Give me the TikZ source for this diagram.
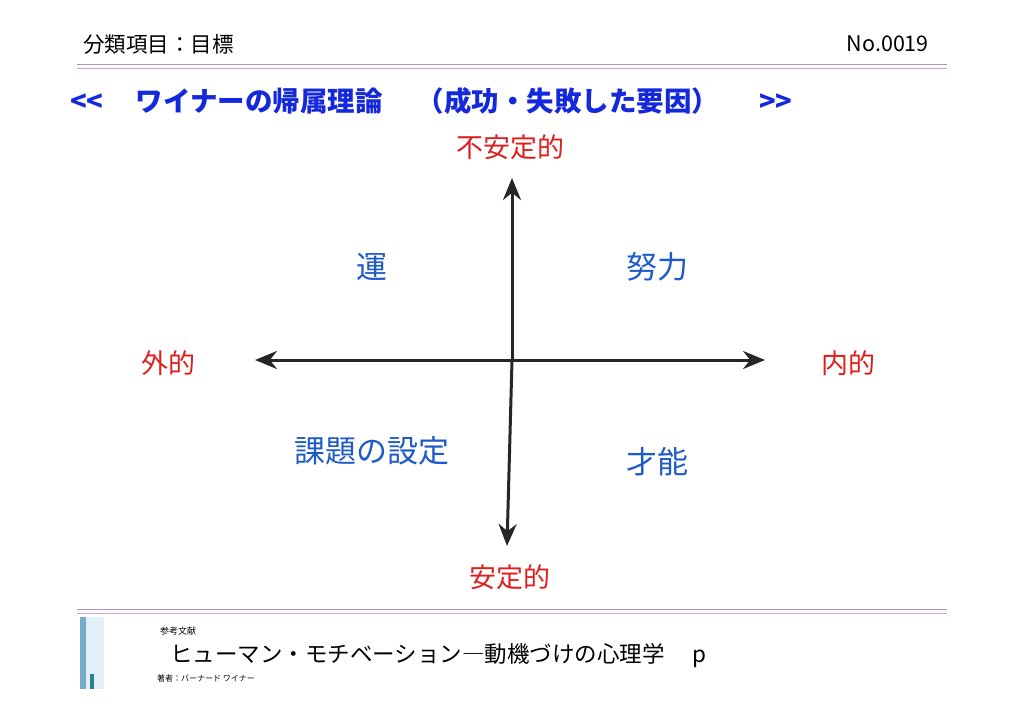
\documentclass[tikz,border=0pt]{standalone}
\usepackage{fontspec}
\newfontfamily\cjk{Noto Sans CJK JP}
\usetikzlibrary{arrows.meta}
\definecolor{tblue}{RGB}{20,40,220}
\definecolor{qblue}{RGB}{30,90,200}
\definecolor{tred}{RGB}{225,30,30}
\definecolor{lineA}{RGB}{160,150,210}
\definecolor{lineB}{RGB}{215,160,200}
\definecolor{coverA}{RGB}{225,240,248}
\definecolor{coverB}{RGB}{120,170,200}
\definecolor{coverC}{RGB}{40,130,140}
\tikzset{
 red lab/.style={text=tred,font=\cjk\fontsize{27}{30}\selectfont,inner sep=0},
 blue lab/.style={text=qblue,font=\cjk\fontsize{31}{34}\selectfont,inner sep=0},
 axis/.style={line width=3pt,draw=black!85,-{Stealth[length=22pt,width=18pt]}},
 rule a/.style={draw=lineA,line width=1pt},
 rule b/.style={draw=lineB,line width=1pt},
}
\begin{document}
\begin{tikzpicture}[x=1pt,y=-1pt]
\useasboundingbox (0,0) rectangle (1024,719);
\fill[white] (0,0) rectangle (1024,719);
% header
\node[anchor=west,inner sep=0,font=\cjk\fontsize{21.5}{24}\selectfont] (cat) at (83,44) {分類項目：目標};
\node[anchor=east,inner sep=0,font=\cjk\fontsize{21.5}{24}\selectfont] (no) at (929,44) {No.0019};
\draw[rule a] (77,65) -- (947,65);
\draw[rule b] (77,69) -- (947,69);
\node[anchor=west,inner sep=0,text=tblue,font=\cjk\bfseries\fontsize{27.5}{30}\selectfont] (title) at (70,101) {<<\hspace{32pt}ワイナーの帰属理論\hspace{34pt}（成功・失敗した要因）\hspace{40pt}>>};
% axes
\coordinate (c) at (512,360);
\coordinate (top) at (512,178);
\coordinate (bot) at (507,546);
\coordinate (lft) at (255,360);
\coordinate (rgt) at (765,360);
\draw[axis] (c) -- (top);
\draw[axis] (c) -- (bot);
\draw[axis] (c) -- (lft);
\draw[axis] (c) -- (rgt);
\node[red lab] (n1) at (510,147) {不安定的};
\node[red lab] (n2) at (510,577) {安定的};
\node[red lab] (n3) at (168,363) {外的};
\node[red lab] (n4) at (848,363) {内的};
\node[blue lab] (q1) at (372,267) {運};
\node[blue lab] (q2) at (657,267) {努力};
\node[blue lab] (q3) at (372,451) {課題の設定};
\node[blue lab] (q4) at (657,462) {才能};
% footer
\draw[rule a] (77,609) -- (947,609);
\draw[rule b] (77,613) -- (947,613);
\fill[coverA] (80,617) rectangle (104,689);
\fill[coverB] (80,617) rectangle (86,689);
\fill[coverC] (90,674) rectangle (94,689);
\node[anchor=west,inner sep=0,font=\cjk\fontsize{9}{11}\selectfont] (ref) at (160,631) {参考文献};
\node[anchor=west,inner sep=0,font=\cjk\fontsize{22.5}{26}\selectfont] (book) at (170,656) {ヒューマン・モチベーション―動機づけの心理学\hspace{28pt}p};
\node[anchor=west,inner sep=0,font=\cjk\fontsize{8}{10}\selectfont] (auth) at (157,678) {著者：バーナード ワイナー};
\end{tikzpicture}
\end{document}
